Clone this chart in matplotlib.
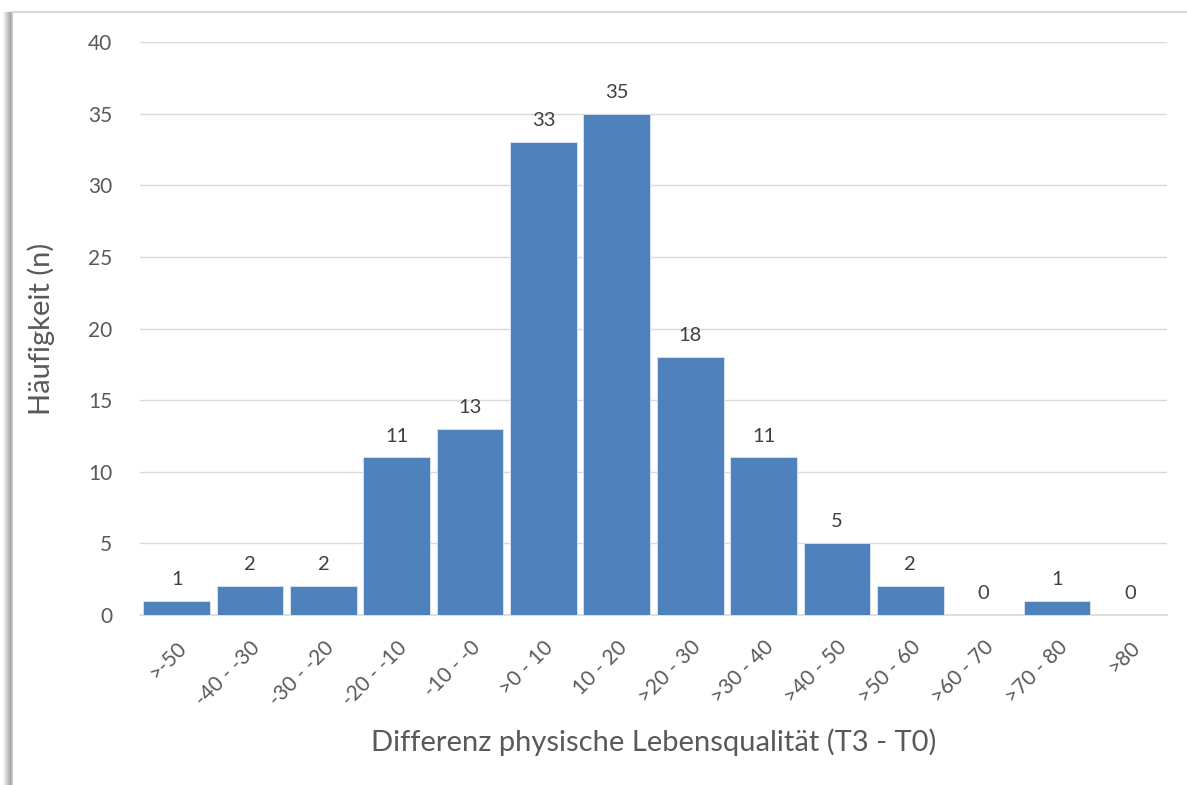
import matplotlib
matplotlib.use('Agg')
import matplotlib.pyplot as plt
import numpy as np
from matplotlib.lines import Line2D

# bins of the physical quality-of-life difference (T3 - T0)
categories = ['>-50', '-40 - -30', '-30 - -20', '-20 - -10', '-10 - -0', '>0 - 10', '10 - 20',
              '>20 - 30', '>30 - 40', '>40 - 50', '>50 - 60', '>60 - 70', '>70 - 80', '>80']
counts = [1, 2, 2, 11, 13, 33, 35, 18, 11, 5, 2, 0, 1, 0]
yticks = [0, 5, 10, 15, 20, 25, 30, 35, 40]

BAR = '#4F81BD'
TXT = '#595959'
GRID = '#D9D9D9'
FONT = ['Lato', 'DejaVu Sans']

plt.rcParams['font.family'] = FONT

W, H = 1187, 785
fig = plt.figure(figsize=(W/100, H/100), dpi=100)
fig.patch.set_facecolor('white')

# frame with soft shadow on the left edge
for i, a in enumerate(np.linspace(0.02, 0.30, 9)):
    x = (3 + i) / W
    fig.add_artist(Line2D([x, x], [0, 1 - 12/H], transform=fig.transFigure,
                          color='black', alpha=a, linewidth=1.0))
fig.add_artist(Line2D([12/W, 12/W], [0, 1 - 12/H], transform=fig.transFigure, color='#BFBFBF', linewidth=1.2))
fig.add_artist(Line2D([12/W, 1], [1 - 12/H, 1 - 12/H], transform=fig.transFigure, color='#D9D9D9', linewidth=1.5))

ax = fig.add_axes([140/W, 1 - 615/H, (1167 - 140)/W, (615 - 42)/H])
x = np.arange(len(categories))
ax.bar(x, counts, width=0.91, color=BAR, edgecolor='#DCE6F2', linewidth=0.6, zorder=3)
for xi, c in zip(x, counts):
    ax.text(xi, c + 0.9, str(c), ha='center', va='bottom', fontsize=14.5, color='#404040')

ax.set_xlim(-0.5, len(categories) - 0.5)
ax.set_ylim(0, 40)
ax.set_yticks(yticks)
ax.set_yticklabels([str(v) for v in yticks], fontsize=15, color=TXT)
ax.yaxis.grid(True, color=GRID, linewidth=1.0, zorder=0)
ax.set_axisbelow(True)
ax.tick_params(axis='both', length=0)
ax.tick_params(axis='y', pad=20)
ax.set_xticks(x)
ax.set_xticklabels(categories, rotation=45, ha='right', rotation_mode='anchor', fontsize=15, color=TXT)
ax.tick_params(axis='x', pad=16)
for s in ['top', 'right', 'left']:
    ax.spines[s].set_visible(False)
ax.spines['bottom'].set_color(GRID)
ax.spines['bottom'].set_linewidth(1.2)

ax.set_ylabel('Häufigkeit (n)', fontsize=21, color=TXT, labelpad=24)
ax.set_xlabel('Differenz physische Lebensqualität (T3 - T0)', fontsize=21, color=TXT, labelpad=14)

fig.savefig('out.png', dpi=100, facecolor='white')
